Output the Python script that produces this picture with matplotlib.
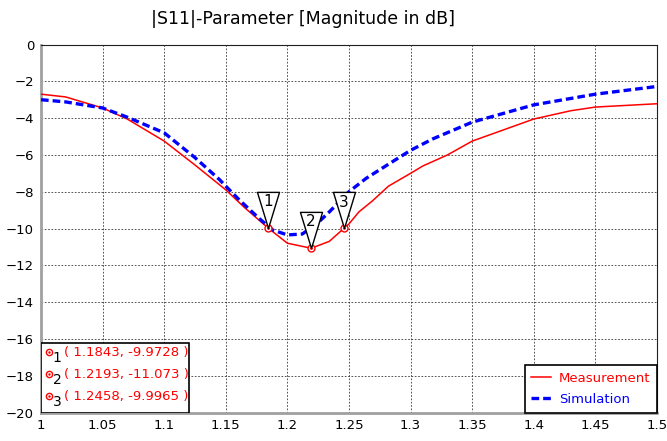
import matplotlib
matplotlib.use("Agg")
import matplotlib.pyplot as plt
from matplotlib.path import Path
from matplotlib.patches import Rectangle

plt.rcParams['font.family'] = ['DejaVu Sans']

title = "|S11|-Parameter [Magnitude in dB]"

freq_meas = [1.0, 1.02, 1.05, 1.07, 1.1, 1.125, 1.15, 1.165, 1.1843, 1.2, 1.2193,
             1.234, 1.2458, 1.25, 1.258, 1.269, 1.282, 1.3, 1.31, 1.33, 1.35, 1.4,
             1.43, 1.45, 1.5]
s11_meas = [-2.70, -2.85, -3.45, -4.05, -5.25, -6.55, -7.9, -8.85, -9.9728, -10.8, -11.073,
            -10.7, -9.9965, -9.75, -9.1, -8.5, -7.7, -7.0, -6.6, -6.0, -5.25, -4.05,
            -3.6, -3.4, -3.22]

freq_sim = [1.0, 1.02, 1.05, 1.07, 1.1, 1.125, 1.145, 1.15, 1.161, 1.177, 1.188, 1.2,
            1.212, 1.223, 1.234, 1.25, 1.264, 1.281, 1.3, 1.318, 1.35, 1.4, 1.45, 1.5]
s11_sim = [-3.0, -3.12, -3.45, -3.95, -4.8, -6.15, -7.35, -7.7, -8.45, -9.45, -10.08, -10.35,
           -10.3, -9.8, -9.1, -8.0, -7.27, -6.55, -5.75, -5.13, -4.22, -3.28, -2.7, -2.28]

marker_ids = ["1", "2", "3"]
marker_x = [1.1843, 1.2193, 1.2458]
marker_y = [-9.9728, -11.073, -9.9965]
marker_labels = ["( 1.1843, -9.9728 )", "( 1.2193, -11.073 )", "( 1.2458, -9.9965 )"]

xticks = [1, 1.05, 1.1, 1.15, 1.2, 1.25, 1.3, 1.35, 1.4, 1.45, 1.5]
xticklabels = ["1", "1.05", "1.1", "1.15", "1.2", "1.25", "1.3", "1.35", "1.4", "1.45", "1.5"]
yticks = list(range(0, -21, -2))

fig = plt.figure(figsize=(6.67, 4.41), dpi=100)
ax = fig.add_axes([41/667, 1-412.5/441, 616/667, 368/441])

ax.plot(freq_meas, s11_meas, color='#ff0000', lw=1.1, label='Measurement', zorder=3)
ax.plot(freq_sim, s11_sim, color='#0000ff', lw=2.4, dashes=(2.3, 1.2), label='Simulation', zorder=4)

# markers
ax.plot(marker_x, marker_y, linestyle='none', marker='o', ms=5, mfc='white', mec='#ff0000',
        mew=1.0, zorder=5)
ax.plot(marker_x, marker_y, linestyle='none', marker='.', ms=2, color='#ff0000', zorder=6)

tri = Path([(-11, 36), (11, 36), (0, 0), (-11, 36)],
           [Path.MOVETO, Path.LINETO, Path.LINETO, Path.CLOSEPOLY])
ax.plot(marker_x, marker_y, linestyle='none', marker=tri, ms=52, mfc='white', mec='black',
        mew=1.0, zorder=7)
for mid, mx, my in zip(marker_ids, marker_x, marker_y):
    ax.annotate(mid, (mx, my), xytext=(0, 19), textcoords='offset points', ha='center',
                va='center', fontsize=11, color='black', zorder=8)

ax.set_xlim(1.0, 1.5)
ax.set_ylim(-20, 0)
ax.set_xticks(xticks)
ax.set_xticklabels(xticklabels)
ax.set_yticks(yticks)
ax.tick_params(length=0, labelsize=9.5, pad=5)
ax.grid(True, color='#333333', linestyle=(0, (2, 2)), lw=0.6)
for side in ['left', 'bottom']:
    ax.spines[side].set_color('#a0a0a0')
    ax.spines[side].set_linewidth(2)
for side in ['top', 'right']:
    ax.spines[side].set_color('#202020')
    ax.spines[side].set_linewidth(0.8)

fig.suptitle(title, x=0.454, y=0.978, fontsize=12.5, va='top')

# marker table box
box = Rectangle((0, 0), 0.24, 0.189, transform=ax.transAxes, facecolor='white',
                edgecolor='black', lw=1.2, zorder=9)
ax.add_patch(box)
rows_y = [0.152, 0.092, 0.032]
for mid, lab, ry in zip(marker_ids, marker_labels, rows_y):
    ax.plot([0.013], [ry + 0.012], transform=ax.transAxes, marker='o', ms=4.5, mfc='white',
            mec='#ff0000', mew=1.0, linestyle='none', zorder=10, clip_on=False)
    ax.plot([0.013], [ry + 0.012], transform=ax.transAxes, marker='.', ms=1.5, color='#ff0000',
            linestyle='none', zorder=11, clip_on=False)
    ax.text(0.019, ry - 0.004, mid, transform=ax.transAxes, fontsize=10, color='black',
            va='center', ha='left', zorder=11)
    ax.text(0.037, ry + 0.012, lab, transform=ax.transAxes, fontsize=9.5, color='#ff0000',
            va='center', ha='left', zorder=11)

leg = ax.legend(loc='lower right', borderaxespad=0, fontsize=9.5, handlelength=1.5,
                handletextpad=0.6, fancybox=False, framealpha=1, edgecolor='black',
                borderpad=0.5, labelspacing=0.6)
leg.get_frame().set_linewidth(1.2)
for txt, col in zip(leg.get_texts(), ['#ff0000', '#0000ff']):
    txt.set_color(col)
leg.set_zorder(12)

fig.savefig('out.png', dpi=100)
